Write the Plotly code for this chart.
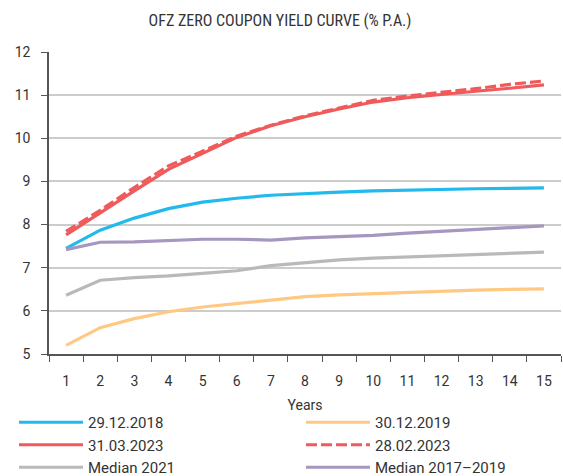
import plotly.graph_objects as go

years = [str(i) for i in range(1, 16)]
y_2018 = [7.45, 7.87, 8.15, 8.37, 8.52, 8.61, 8.68, 8.72, 8.75, 8.78, 8.80, 8.82, 8.83, 8.84, 8.85]
y_2019 = [5.20, 5.61, 5.82, 5.98, 6.09, 6.17, 6.26, 6.33, 6.37, 6.40, 6.43, 6.46, 6.48, 6.50, 6.51]
y_mar2023 = [7.76, 8.28, 8.78, 9.28, 9.65, 10.02, 10.29, 10.50, 10.68, 10.84, 10.94, 11.02, 11.09, 11.16, 11.24]
y_feb2023 = [7.84, 8.33, 8.86, 9.36, 9.70, 10.05, 10.30, 10.52, 10.70, 10.88, 10.98, 11.06, 11.15, 11.25, 11.33]
y_med2021 = [6.36, 6.71, 6.77, 6.81, 6.87, 6.93, 7.05, 7.12, 7.18, 7.22, 7.25, 7.28, 7.31, 7.34, 7.36]
y_med1719 = [7.42, 7.59, 7.60, 7.63, 7.66, 7.66, 7.64, 7.69, 7.72, 7.75, 7.80, 7.84, 7.88, 7.92, 7.97]

FONT = "Roboto, Arial, sans-serif"

# (name, values, colour, dash, legend column)
series = [
    ("29.12.2018", y_2018, "#22b9ec", "solid", "legend"),
    ("30.12.2019", y_2019, "#ffc983", "solid", "legend2"),
    ("31.03.2023", y_mar2023, "#f05a5b", "solid", "legend"),
    ("28.02.2023", y_feb2023, "#f05a5b", "11px,4px", "legend2"),
    ("Median 2021", y_med2021, "#b9b9b9", "solid", "legend"),
    ("Median 2017\u20132019", y_med1719, "#a597bf", "solid", "legend2"),
]

fig = go.Figure()
for name, vals, color, dash, leg in series:
    fig.add_trace(go.Scatter(
        x=years, y=vals, name=name, mode="lines", legend=leg,
        line=dict(color=color, width=3.2, dash=dash),
    ))

legend_common = dict(
    orientation="v", xref="container", yref="container",
    xanchor="left", y=1 - 406 / 476, yanchor="top",
    itemwidth=64, font=dict(size=15), bgcolor="rgba(0,0,0,0)",
)

fig.update_layout(
    width=563, height=476,
    margin=dict(l=49, r=2, t=52, b=122, autoexpand=False),
    paper_bgcolor="white", plot_bgcolor="white",
    font=dict(family=FONT, size=14, color="#333333"),
    title=dict(text="OFZ ZERO COUPON YIELD CURVE (% P.A.)", x=280 / 563, xref="container",
               xanchor="center", y=1 - 20 / 476, yanchor="middle",
               font=dict(family="Liberation Sans Narrow, Roboto Condensed, Arial Narrow, sans-serif",
                         size=16, color="#333333")),
    xaxis=dict(
        type="category", tickson="boundaries", range=[-0.5, 14.5],
        ticks="outside", ticklen=6, tickcolor="#555555", tickwidth=1.2,
        showline=True, linecolor="#555555", linewidth=1.5,
        showgrid=False, ticklabelstandoff=13,
        title=dict(text="Years", standoff=13, font=dict(size=14)),
        tickfont=dict(size=14),
    ),
    yaxis=dict(
        range=[5, 12], dtick=1, tick0=5,
        ticks="outside", ticklen=6, tickcolor="#555555", tickwidth=1.2,
        showline=True, linecolor="#555555", linewidth=1.5,
        showgrid=True, gridcolor="#cccccc", gridwidth=1.5,
        zeroline=False, ticklabelstandoff=8,
        tickfont=dict(size=14),
    ),
    legend=dict(x=14 / 563, **legend_common),
    legend2=dict(x=301 / 563, **legend_common),
    showlegend=True,
)

fig.write_html("out.html", config={"displayModeBar": False},
               post_script="document.body.style.margin='0';")
